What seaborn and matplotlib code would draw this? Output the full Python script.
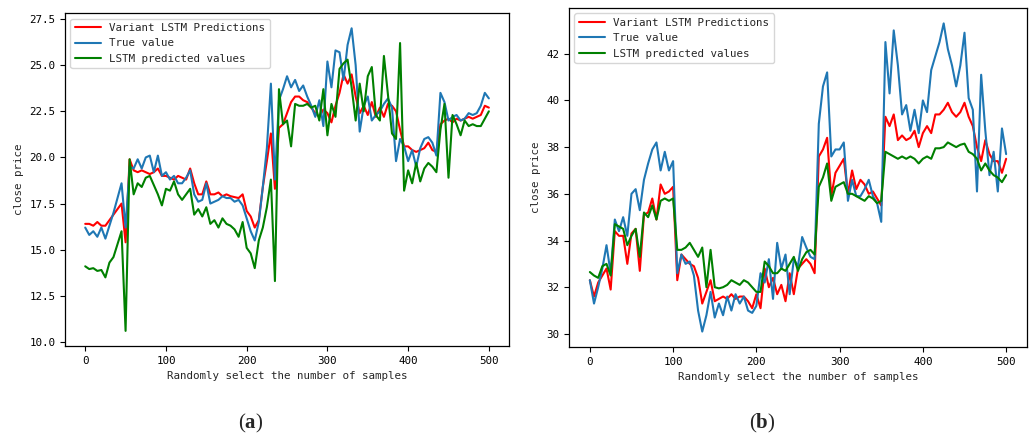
import numpy as np
import pandas as pd
import matplotlib
matplotlib.use("Agg")
import matplotlib.pyplot as plt
import seaborn as sns

# ---------------- data ----------------
sample_index = list(range(0, 501, 5))

series_names = ["Variant LSTM Predictions", "True value", "LSTM predicted values"]

# panel (a)
a_variant = [
    16.4, 16.4, 16.3, 16.5, 16.3, 16.3, 16.6, 16.9, 17.2, 17.5,
    15.4, 19.9, 19.3, 19.2, 19.3, 19.2, 19.1, 19.2, 19.4, 19.0,
    19.0, 18.9, 18.8, 19.0, 18.9, 18.8, 19.4, 18.6, 18.0, 18.0,
    18.7, 18.0, 18.0, 18.1, 17.9, 18.0, 17.9, 17.85, 17.8, 18.0,
    17.1, 16.8, 16.2, 16.6, 18.4, 19.8, 21.3, 18.3, 21.6, 21.8,
    22.4, 23.0, 23.3, 23.3, 23.1, 23.0, 22.7, 22.4, 22.2, 22.6,
    22.4, 21.9, 22.8, 23.5, 24.5, 24.0, 24.5, 23.3, 22.4, 22.8,
    22.3, 23.0, 22.2, 22.7, 22.2, 22.9, 22.8, 22.5, 21.5, 20.6,
    20.6, 20.4, 20.3, 20.4, 20.5, 20.8, 20.4, 20.3, 21.8, 22.0,
    22.1, 21.9, 22.1, 22.0, 22.1, 22.2, 22.1, 22.2, 22.3, 22.8,
    22.7,
]
a_true = [
    16.2, 15.8, 16.0, 15.7, 16.2, 15.6, 16.3, 17.0, 17.8, 18.6,
    16.2, 19.5, 19.4, 19.9, 19.4, 20.0, 20.1, 19.2, 20.1, 19.0,
    19.2, 18.8, 19.0, 18.6, 18.6, 18.9, 19.3, 18.0, 17.6, 17.7,
    18.6, 17.5, 17.6, 17.7, 17.9, 17.8, 17.8, 17.6, 17.7, 17.4,
    16.7, 16.0, 15.5, 16.5, 18.4, 20.5, 24.0, 18.8, 23.1, 23.7,
    24.4, 23.8, 24.2, 23.6, 23.9, 23.3, 22.8, 22.2, 23.1, 21.7,
    25.2, 23.8, 25.8, 25.7, 24.2, 26.1, 27.0, 25.0, 21.4, 22.8,
    23.3, 22.0, 22.3, 22.5, 22.9, 23.2, 22.7, 19.8, 21.0, 20.6,
    19.8, 20.4, 19.5, 20.5, 21.0, 21.1, 20.8, 20.1, 23.5, 23.0,
    22.0, 22.2, 22.3, 22.0, 22.1, 22.4, 22.3, 22.4, 22.8, 23.5,
    23.2,
]
a_lstm = [
    14.1, 13.95, 14.0, 13.85, 13.9, 13.5, 14.3, 14.6, 15.3, 16.0,
    10.6, 19.9, 18.0, 18.6, 18.4, 18.9, 19.0, 18.5, 18.0, 17.4,
    18.3, 18.2, 18.7, 18.0, 17.7, 18.0, 18.3, 16.9, 17.2, 16.8,
    17.3, 16.4, 16.6, 16.2, 16.7, 16.4, 16.3, 16.1, 15.7, 16.5,
    15.1, 14.8, 14.0, 15.5, 16.2, 17.3, 18.8, 13.3, 23.7, 21.8,
    22.0, 20.6, 22.9, 22.8, 22.8, 22.9, 22.7, 22.8, 22.0, 23.7,
    21.2, 22.9, 22.2, 24.8, 25.1, 25.3, 23.8, 22.0, 24.0, 22.5,
    24.4, 24.9, 22.3, 22.0, 25.5, 23.4, 21.3, 21.0, 26.2, 18.2,
    19.3, 18.6, 19.7, 18.7, 19.4, 19.7, 19.5, 19.2, 21.5, 22.9,
    18.9, 22.3, 21.8, 21.2, 22.0, 21.7, 21.8, 21.7, 21.7, 22.1,
    22.5,
]

# panel (b)
b_variant = [
    32.3, 31.6, 32.2, 32.5, 32.8, 31.9, 34.4, 34.2, 34.2, 33.0,
    34.3, 34.5, 32.7, 35.1, 35.2, 35.8, 34.9, 36.4, 36.0, 36.1,
    36.3, 32.3, 33.4, 33.2, 33.0, 32.9, 32.4, 31.3, 31.8, 32.3,
    31.4, 31.5, 31.6, 31.5, 31.7, 31.5, 31.6, 31.6, 31.4, 31.1,
    31.7, 31.1, 32.8, 32.0, 32.4, 31.7, 32.1, 31.4, 32.6, 31.7,
    32.8, 33.0, 33.2, 33.0, 32.6, 37.6, 37.9, 38.4, 35.9, 36.9,
    37.2, 37.5, 36.0, 37.0, 36.2, 36.6, 36.4, 36.0, 36.1, 35.8,
    35.5, 39.3, 38.9, 39.4, 38.3, 38.5, 38.3, 38.4, 38.7, 38.0,
    38.6, 38.9, 38.6, 39.4, 39.4, 39.6, 39.9, 39.5, 39.3, 39.5,
    39.9, 39.3, 38.9, 38.0, 37.4, 38.3, 37.7, 37.4, 37.4, 36.9,
    37.5,
]
b_true = [
    32.3, 31.3, 32.0, 32.8, 33.8, 32.6, 34.9, 34.4, 35.0, 34.2,
    36.0, 36.2, 35.3, 36.6, 37.3, 37.9, 38.2, 37.0, 37.8, 37.0,
    37.4, 32.6, 33.4, 33.0, 33.1, 32.5, 31.0, 30.1, 30.8, 31.8,
    30.7, 31.3, 30.8, 31.6, 31.0, 31.7, 31.3, 31.6, 31.0, 30.9,
    31.2, 32.6, 32.2, 33.2, 31.5, 33.9, 32.8, 33.4, 31.7, 33.2,
    32.9, 34.15, 33.7, 33.3, 33.2, 39.0, 40.6, 41.2, 37.6, 37.9,
    37.9, 38.2, 35.7, 36.6, 35.9, 35.9, 36.2, 36.6, 35.9, 35.6,
    34.8, 42.5, 40.3, 43.0, 41.5, 39.4, 39.8, 38.7, 39.6, 38.6,
    40.0, 39.5, 41.3, 41.9, 42.5, 43.3, 42.2, 41.5, 40.6, 41.5,
    42.9, 40.1, 39.6, 36.1, 41.1, 38.7, 36.8, 37.8, 36.1, 38.8,
    37.7,
]
b_lstm = [
    32.65, 32.5, 32.4, 32.9, 33.0, 32.5, 34.7, 34.6, 34.5, 33.8,
    34.2, 34.5, 33.3, 35.2, 35.0, 35.5, 34.9, 35.7, 35.8, 35.7,
    35.8, 33.6, 33.6, 33.7, 33.9, 33.6, 33.3, 33.7, 32.0, 33.6,
    32.0, 31.95, 32.0, 32.1, 32.3, 32.2, 32.1, 32.3, 32.2, 32.0,
    31.8, 31.8, 33.1, 32.9, 32.6, 32.6, 32.8, 32.7, 33.0, 33.3,
    32.7, 33.2, 33.5, 33.6, 33.4, 36.3, 36.7, 37.3, 35.7, 36.3,
    36.4, 36.5, 36.0, 36.0, 35.9, 35.8, 35.7, 35.9, 35.8, 35.6,
    35.7, 37.8, 37.7, 37.6, 37.5, 37.6, 37.5, 37.6, 37.5, 37.3,
    37.5, 37.6, 37.5, 37.95, 37.95, 38.0, 38.2, 38.1, 38.0, 38.1,
    38.15, 37.8, 37.7, 37.5, 37.0, 37.3, 37.0, 36.8, 36.7, 36.5,
    36.8,
]

x_label = "Randomly select the number of samples"
y_label = "close price"
panel_tags = ["a", "b"]

# ---------------- style ----------------
sns.set_style("ticks")
plt.rcParams["font.family"] = ["DejaVu Sans Mono", "DejaVu Sans"]
plt.rcParams["mathtext.fontset"] = "custom"
plt.rcParams["mathtext.rm"] = "Liberation Serif"
plt.rcParams["mathtext.bf"] = "Liberation Serif:bold"
plt.rcParams["axes.edgecolor"] = "black"
plt.rcParams["xtick.color"] = "black"
plt.rcParams["ytick.color"] = "black"
plt.rcParams["xtick.direction"] = "out"
plt.rcParams["ytick.direction"] = "out"

colors = ["red", "#1f77b4", "green"]
FS = 7.8

fig = plt.figure(figsize=(10.29, 4.38), dpi=100)
ax_a = fig.add_axes([0.0632, 0.210, 0.4315, 0.760])
ax_b = fig.add_axes([0.553, 0.2078, 0.445, 0.774])

panels = [
    (ax_a, [a_variant, a_true, a_lstm]),
    (ax_b, [b_variant, b_true, b_lstm]),
]

for ax, ys in panels:
    for name, vals, col in zip(series_names, ys, colors):
        df = pd.DataFrame({"sample": sample_index, "price": vals})
        sns.lineplot(data=df, x="sample", y="price", ax=ax, color=col,
                     label=name, linewidth=1.5, estimator=None)
    ax.set_xlabel(x_label, fontsize=FS)
    ax.set_ylabel(y_label, fontsize=FS)
    ax.set_xticks([0, 100, 200, 300, 400, 500])
    ax.tick_params(labelsize=FS, length=3.5, width=0.8)
    for sp in ax.spines.values():
        sp.set_visible(True)
        sp.set_color("black")
        sp.set_linewidth(0.9)
    ax.legend(loc="upper left", fontsize=FS, handlelength=2.4,
              framealpha=0.8, edgecolor="#cccccc")

for xpos, tag in zip([0.244, 0.7405], panel_tags):
    fig.text(xpos, 0.032, r"$\mathrm{(}\mathbf{" + tag + r"}\mathrm{)}$",
             fontsize=15, ha="center", va="center")

fig.savefig("out.png", dpi=100)
